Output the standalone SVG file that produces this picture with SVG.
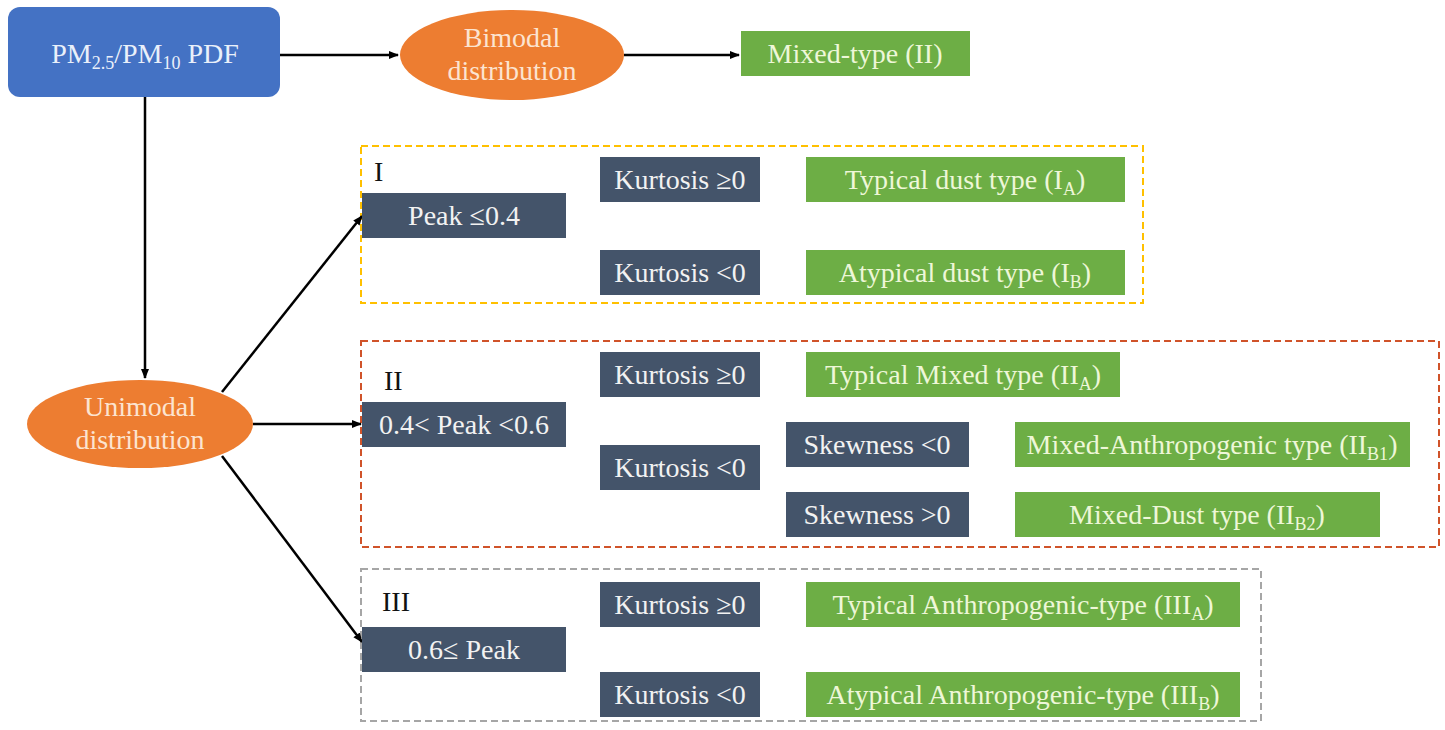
<svg xmlns="http://www.w3.org/2000/svg" width="1445" height="730" viewBox="0 0 1445 730" font-family="'Liberation Serif', 'Times New Roman', serif">
<defs>
<marker id="ah" viewBox="0 0 10 10" refX="9" refY="5" markerWidth="10" markerHeight="10" markerUnits="userSpaceOnUse" orient="auto"><path d="M0,1 L10,5 L0,9 z" fill="#000"/></marker>
<style>
text, tspan{font-family:'Liberation Serif','Times New Roman',serif}
text{font-size:28px;text-anchor:middle}
.s{font-size:18px}
.dk{fill:#44546A}
.gr{fill:#6DAE45}
.or{fill:#ED7D31}
.tw{fill:#F2F2F2}
.tg{fill:#EEF7D8}
.to{fill:#FCE4D0}
.lbl{fill:#111;text-anchor:start}
.con{stroke:#000;stroke-width:2.5;fill:none;marker-end:url(#ah)}
.grp{fill:none;stroke-width:2;stroke-dasharray:7,4}
</style>
</defs>
<rect width="1445" height="730" fill="#fff"/>

<g id="group-I"><rect class="grp" x="361" y="146" width="782" height="157" stroke="#FFC000"/><text class="lbl" x="374" y="181"><tspan>I</tspan></text></g>
<g id="group-II"><rect class="grp" x="361" y="341" width="1078" height="206" stroke="#D0532A"/><text class="lbl" x="384" y="390"><tspan>II</tspan></text></g>
<g id="group-III"><rect class="grp" x="361" y="569" width="900" height="152" stroke="#A6A6A6"/><text class="lbl" x="382" y="611"><tspan>III</tspan></text></g>

<g id="connectors">
<line class="con" x1="280" y1="55" x2="398" y2="55"/>
<line class="con" x1="624" y1="55" x2="739" y2="55"/>
<line class="con" x1="145" y1="97" x2="145" y2="378"/>
<line class="con" x1="222" y1="392" x2="362" y2="216"/>
<line class="con" x1="253" y1="424" x2="361" y2="424"/>
<line class="con" x1="222" y1="456" x2="362" y2="642"/>
</g>

<g id="pdf"><rect x="8" y="7" width="272" height="90" rx="12" fill="#4472C4"/><text x="145" y="63" fill="#EAF0FA"><tspan>PM</tspan><tspan class="s" dy="6">2.5</tspan><tspan dy="-6">/PM</tspan><tspan class="s" dy="6">10</tspan><tspan dy="-6"> PDF</tspan></text></g>
<g id="bimodal"><ellipse cx="512" cy="55" rx="112" ry="45" class="or"/><text class="to" x="512" y="47"><tspan>Bimodal</tspan></text><text class="to" x="512" y="80"><tspan>distribution</tspan></text></g>
<g id="mixed-II"><rect class="gr" x="741" y="31" width="229" height="45"/><text class="tg" x="855" y="63"><tspan>Mixed-type (II)</tspan></text></g>
<g id="unimodal"><ellipse cx="140" cy="424" rx="113" ry="44" class="or"/><text class="to" x="140" y="416"><tspan>Unimodal</tspan></text><text class="to" x="140" y="449"><tspan>distribution</tspan></text></g>

<g id="peak1"><rect class="dk" x="362" y="193" width="204" height="45"/><text class="tw" x="464" y="225"><tspan>Peak ≤0.4</tspan></text></g>
<g id="k1a"><rect class="dk" x="600" y="157" width="160" height="45"/><text class="tw" x="680" y="189"><tspan>Kurtosis ≥0</tspan></text></g>
<g id="k1b"><rect class="dk" x="600" y="250" width="160" height="45"/><text class="tw" x="680" y="282"><tspan>Kurtosis &lt;0</tspan></text></g>
<g id="IA"><rect class="gr" x="806" y="157" width="319" height="45"/><text class="tg" x="965" y="189"><tspan>Typical dust type (I</tspan><tspan class="s" dy="6">A</tspan><tspan dy="-6">)</tspan></text></g>
<g id="IB"><rect class="gr" x="806" y="250" width="319" height="45"/><text class="tg" x="965" y="282"><tspan>Atypical dust type (I</tspan><tspan class="s" dy="6">B</tspan><tspan dy="-6">)</tspan></text></g>

<g id="peak2"><rect class="dk" x="362" y="402" width="204" height="45"/><text class="tw" x="464" y="434"><tspan>0.4&lt; Peak &lt;0.6</tspan></text></g>
<g id="k2a"><rect class="dk" x="600" y="352" width="160" height="45"/><text class="tw" x="680" y="384"><tspan>Kurtosis ≥0</tspan></text></g>
<g id="k2b"><rect class="dk" x="600" y="445" width="160" height="45"/><text class="tw" x="680" y="477"><tspan>Kurtosis &lt;0</tspan></text></g>
<g id="IIA"><rect class="gr" x="806" y="352" width="314" height="45"/><text class="tg" x="963" y="384"><tspan>Typical Mixed type (II</tspan><tspan class="s" dy="6">A</tspan><tspan dy="-6">)</tspan></text></g>
<g id="s2a"><rect class="dk" x="786" y="422" width="183" height="45"/><text class="tw" x="877" y="454"><tspan>Skewness &lt;0</tspan></text></g>
<g id="s2b"><rect class="dk" x="786" y="492" width="183" height="45"/><text class="tw" x="877" y="524"><tspan>Skewness &gt;0</tspan></text></g>
<g id="IIB1"><rect class="gr" x="1015" y="422" width="395" height="45"/><text class="tg" x="1212" y="454"><tspan>Mixed-Anthropogenic type (II</tspan><tspan class="s" dy="6">B1</tspan><tspan dy="-6">)</tspan></text></g>
<g id="IIB2"><rect class="gr" x="1015" y="492" width="365" height="45"/><text class="tg" x="1197" y="524"><tspan>Mixed-Dust type (II</tspan><tspan class="s" dy="6">B2</tspan><tspan dy="-6">)</tspan></text></g>

<g id="peak3"><rect class="dk" x="362" y="627" width="204" height="45"/><text class="tw" x="464" y="659"><tspan>0.6≤ Peak</tspan></text></g>
<g id="k3a"><rect class="dk" x="600" y="582" width="160" height="45"/><text class="tw" x="680" y="614"><tspan>Kurtosis ≥0</tspan></text></g>
<g id="k3b"><rect class="dk" x="600" y="672" width="160" height="45"/><text class="tw" x="680" y="704"><tspan>Kurtosis &lt;0</tspan></text></g>
<g id="IIIA"><rect class="gr" x="806" y="582" width="434" height="45"/><text class="tg" x="1023" y="614"><tspan>Typical Anthropogenic-type (III</tspan><tspan class="s" dy="6">A</tspan><tspan dy="-6">)</tspan></text></g>
<g id="IIIB"><rect class="gr" x="806" y="672" width="434" height="45"/><text class="tg" x="1023" y="704"><tspan>Atypical Anthropogenic-type (III</tspan><tspan class="s" dy="6">B</tspan><tspan dy="-6">)</tspan></text></g>
</svg>
